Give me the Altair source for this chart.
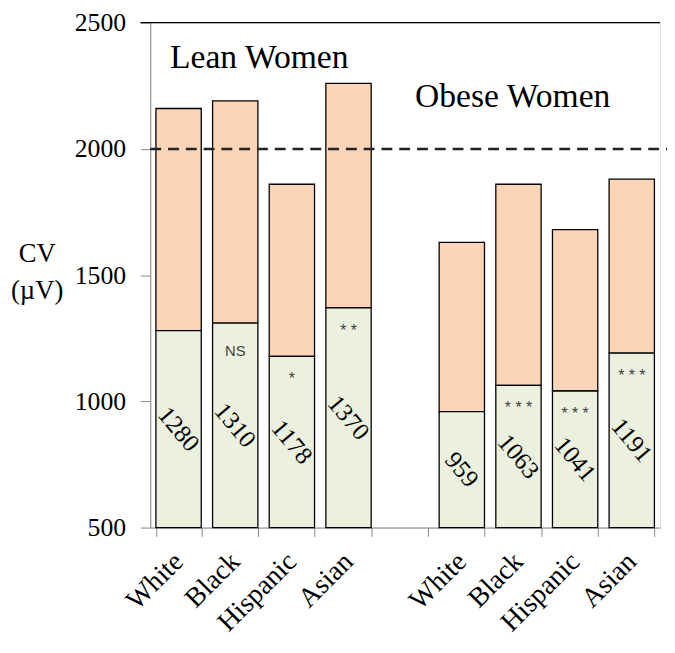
import altair as alt
import pandas as pd

slots = ["L_White", "L_Black", "L_Hispanic", "L_Asian", "gap",
         "O_White", "O_Black", "O_Hispanic", "O_Asian"]
slot_labels = ["White", "Black", "Hispanic", "Asian", "",
               "White", "Black", "Hispanic", "Asian"]
bar_slots = ["L_White", "L_Black", "L_Hispanic", "L_Asian",
             "O_White", "O_Black", "O_Hispanic", "O_Asian"]
totals = [2160, 2190, 1860, 2260, 1630, 1860, 1680, 1880]
bases = [1280, 1310, 1178, 1370, 959, 1063, 1041, 1191]
sig = ["", "NS", "*", "* *", "", "* * *", "* * *", "* * *"]
y_min = 500

df = pd.DataFrame({"slot": bar_slots, "total": totals, "base": bases, "sig": sig})

label_map = {s: l for s, l in zip(slots, slot_labels)}
label_expr = "{" + ",".join(f"'{k}':'{v}'" for k, v in label_map.items()) + "}[datum.value]"

FONT = "Liberation Serif"
SANS = "Liberation Sans"

xenc = alt.X("slot:N", scale=alt.Scale(domain=slots, paddingInner=0.2, paddingOuter=0.1),
             axis=alt.Axis(title=None, labelExpr=label_expr, labelAngle=-45,
                           labelAlign="right", labelBaseline="middle",
                           labelFont=FONT, labelFontSize=28, labelColor="black",
                           labelPadding=21, tickBand="extent", tickSize=9,
                           domainColor="#888888", tickColor="#888888"))
yscale = alt.Scale(domain=[500, 2500], nice=False, zero=False)
yenc = alt.Y("total:Q", scale=yscale,
             axis=alt.Axis(values=[500, 1000, 1500, 2000, 2500], format="d", title=["CV", "(\u00b5V)"],
                           titleAngle=0, titleFont=FONT, titleFontSize=27, titleFontWeight="normal",
                           titleX=-115, titleY=234, titleAlign="center", titleBaseline="middle",
                           titleLineHeight=37,
                           labelFont=FONT, labelFontSize=26, labelColor="black",
                           labelPadding=15, tickSize=10, grid=False,
                           domainColor="#888888", tickColor="#888888"))

base = alt.Chart(df).transform_calculate(lo=str(y_min), mid="(datum.base + %d) / 2" % y_min)

orange = base.mark_bar(color="#FBD5B5", stroke="black", strokeWidth=1.3).encode(
    x=xenc, y=yenc, y2="base:Q")
green = base.mark_bar(color="#EBF1DE", stroke="black", strokeWidth=1.3).encode(
    x="slot:N", y=alt.Y("base:Q", scale=yscale), y2="lo:Q")

nums = base.mark_text(font=FONT, fontSize=25, angle=50, color="black").encode(
    x="slot:N", y=alt.Y("mid:Q", scale=yscale), text="base:Q")

ns_text = base.transform_filter("datum.sig == 'NS'").mark_text(
    font=SANS, fontSize=15, color="#404040", baseline="alphabetic", dy=33).encode(
    x="slot:N", y=alt.Y("base:Q", scale=yscale), text="sig:N")
star_text = base.transform_filter("indexof(datum.sig, '*') >= 0").mark_text(
    font=SANS, fontSize=16, color="#404040", baseline="alphabetic", dy=28).encode(
    x="slot:N", y=alt.Y("base:Q", scale=yscale), text="sig:N")

dash = alt.Chart(pd.DataFrame({"v": [2000]})).mark_rule(
    color="#222222", strokeWidth=2.5, strokeDash=[11, 7]).encode(
    y=alt.Y("v:Q", scale=yscale), x=alt.value(0), x2=alt.value(523))

top = alt.Chart(pd.DataFrame({"v": [2500]})).mark_rule(color="black", strokeWidth=1.3).encode(
    y=alt.Y("v:Q", scale=yscale), x=alt.value(-10), x2=alt.value(516))

titles_df = pd.DataFrame({"t": ["Lean Women", "Obese Women"], "px": [20, 268], "py": [36, 75]})
titles = alt.Chart(titles_df).mark_text(font=FONT, fontSize=34, align="left",
                                         baseline="middle", color="black").encode(
    text="t:N", x=alt.X("px:Q", scale=None), y=alt.Y("py:Q", scale=None))

chart = alt.layer(orange, green, nums, ns_text, star_text, dash, top, titles).properties(
    width=516, height=511,
    autosize=alt.AutoSizeParams(type="none"),
    padding={"left": 144, "top": 11, "right": 7, "bottom": 115},
).configure_view(stroke="#888888", strokeWidth=1.5).configure(background="white")

chart.save("out.html", embed_options={"renderer": "svg", "actions": False})
